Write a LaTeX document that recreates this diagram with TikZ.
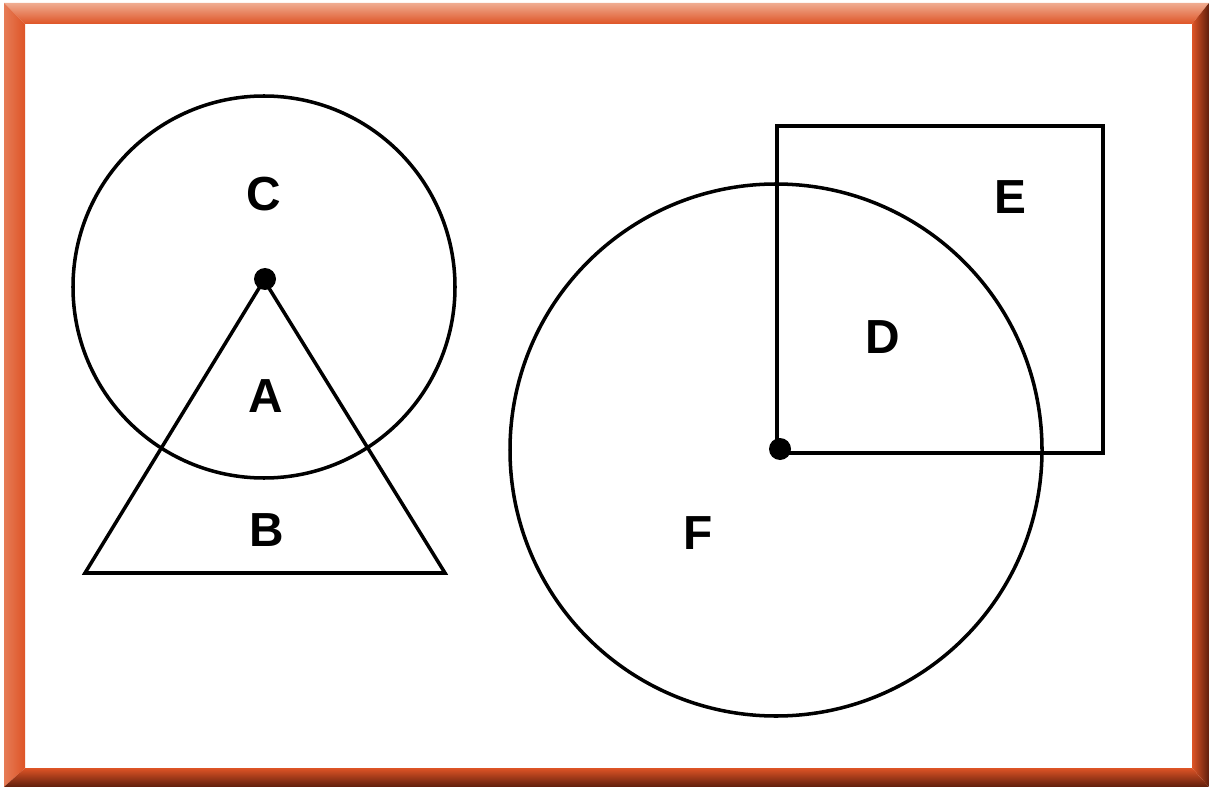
\documentclass[tikz,border=0pt]{standalone}
\usepackage{fontspec}
\setmainfont{Liberation Sans}
\definecolor{frameorange}{RGB}{222,84,38}
\definecolor{framelight}{RGB}{240,172,145}
\definecolor{framedark}{RGB}{95,30,12}
\tikzset{
    shapeline/.style={line width=2.5pt, black},
    region/.style={font=\bfseries\fontsize{34}{38}\selectfont, inner sep=0pt},
    centre/.style={fill=black, draw=none}
}
\begin{document}
\begin{tikzpicture}[x=0.025cm, y=-0.025cm]
        \useasboundingbox (0,0) rectangle (1209,787);

        % Frame
        \fill[white] (25,24) rectangle (1192,768);
        \shade[top color=framelight, bottom color=frameorange]
            (4,3) -- (1209,3) -- (1192,24) -- (25,24) -- cycle;
        \shade[left color=framelight!45!frameorange, right color=frameorange]
            (4,3) -- (25,24) -- (25,768) -- (4,787) -- cycle;
        \shade[left color=frameorange, right color=framedark]
            (1192,24) -- (1209,3) -- (1209,787) -- (1192,768) -- cycle;
        \shade[top color=frameorange, bottom color=framedark]
            (25,768) -- (1192,768) -- (1209,787) -- (4,787) -- cycle;

        % Circle and triangle
        \begin{scope}
            \draw[shapeline] (264,287) circle (191);
            \draw[shapeline, line join=miter] (264,280) -- (85,573) -- (445,573) -- cycle;
            \fill[centre] (265,279) circle (11);

            \node[region] (c) at (264,194) {C};
            \node[region] (a) at (266,396) {A};
            \node[region] (b) at (267,530) {B};
        \end{scope}

        % Circle and square
        \begin{scope}
            \draw[shapeline] (776,450) circle (266);
            \draw[shapeline, line join=miter] (777,453) rectangle (1103,126);
            \fill[centre] (780,449) circle (11);

            \node[region] (e) at (1010,197) {E};
            \node[region] (d) at (883,337) {D};
            \node[region] (f) at (698,533) {F};
        \end{scope}

    \end{tikzpicture}
\end{document}
